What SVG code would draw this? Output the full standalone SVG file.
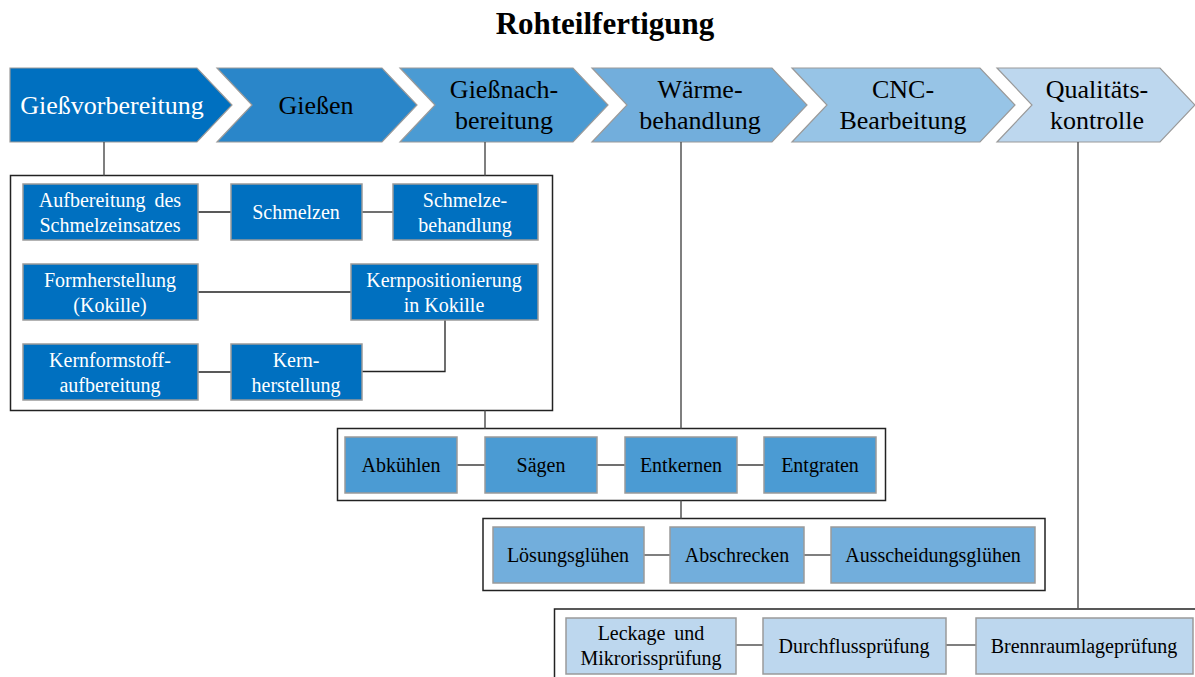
<svg xmlns="http://www.w3.org/2000/svg" width="1195" height="677" viewBox="0 0 1195 677">
  <style>
    text { font-family: "Liberation Serif", "Times New Roman", serif; text-anchor: middle; }
    .title { font-size: 31px; font-weight: bold; fill: #000; }
    .chev { stroke: #9a9a9a; stroke-width: 1.2; }
    .ct { font-size: 26px; fill: #000; }
    .ctw { font-size: 26px; fill: #fff; }
    .frame { fill: #fff; stroke: #222; stroke-width: 1.5; }
    .box { stroke: #9a9a9a; stroke-width: 1.5; }
    .b1 { fill: #0070C0; }
    .b2 { fill: #4B9BD3; }
    .b3 { fill: #72AEDC; }
    .b4 { fill: #BDD7EE; }
    .bt { font-size: 20px; fill: #000; }
    .btw { font-size: 20px; fill: #fff; }
    .link { stroke: #222; stroke-width: 1.3; fill: none; }
    .drop { stroke: #555; stroke-width: 1.5; fill: none; }
  </style>

  <text class="title" x="605" y="34">Rohteilfertigung</text>

  <!-- process chevrons -->
  <g id="phase-giessvorbereitung">
    <polygon class="chev" fill="#0070C0" points="10,68 197,68 232,105 197,142 10,142"/>
    <text class="ctw" x="112" y="114">Gießvorbereitung</text>
  </g>
  <g id="phase-giessen">
    <polygon class="chev" fill="#2A86C9" points="217,68 382,68 417,105 382,142 217,142 252,105"/>
    <text class="ct" x="316" y="114">Gießen</text>
  </g>
  <g id="phase-giessnachbereitung">
    <polygon class="chev" fill="#4B9BD3" points="400,68 573,68 608,105 573,142 400,142 435,105"/>
    <text class="ct" x="504" y="98">Gießnach-</text>
    <text class="ct" x="504" y="129">bereitung</text>
  </g>
  <g id="phase-waermebehandlung">
    <polygon class="chev" fill="#72AEDC" points="592,68 772,68 807,105 772,142 592,142 627,105"/>
    <text class="ct" x="700" y="98">Wärme-</text>
    <text class="ct" x="700" y="129">behandlung</text>
  </g>
  <g id="phase-cnc">
    <polygon class="chev" fill="#97C4E6" points="792,68 980,68 1015,105 980,142 792,142 827,105"/>
    <text class="ct" x="903" y="98">CNC-</text>
    <text class="ct" x="903" y="129">Bearbeitung</text>
  </g>
  <g id="phase-qualitaet">
    <polygon class="chev" fill="#BDD7EE" points="997,68 1160,68 1195,105 1160,142 997,142 1032,105"/>
    <text class="ct" x="1097" y="98">Qualitäts-</text>
    <text class="ct" x="1097" y="129">kontrolle</text>
  </g>

  <!-- group frames -->
  <g id="frames">
    <rect class="frame" x="10.5" y="175.5" width="542" height="235"/>
    <rect class="frame" x="337.5" y="428.5" width="548" height="72"/>
    <rect class="frame" x="483" y="518.5" width="562" height="72"/>
    <rect class="frame" x="554.5" y="609" width="650" height="80"/>
  </g>

  <!-- connectors -->
  <g id="connectors">
    <line class="drop" x1="104" y1="142" x2="104" y2="175.5"/>
    <line class="drop" x1="485" y1="142" x2="485" y2="175.5"/>
    <line class="drop" x1="485" y1="410.5" x2="485" y2="428.5"/>
    <line class="drop" x1="681" y1="142" x2="681" y2="428.5"/>
    <line class="drop" x1="681" y1="500.5" x2="681" y2="518.5"/>
    <line class="drop" x1="1078" y1="142" x2="1078" y2="609"/>

    <line class="link" x1="198" y1="212" x2="231" y2="212"/>
    <line class="link" x1="362" y1="212" x2="393" y2="212"/>
    <line class="link" x1="198" y1="292" x2="351" y2="292"/>
    <line class="link" x1="198" y1="372" x2="231" y2="372"/>
    <polyline class="link" points="445,320 445,371.5 362,371.5"/>

    <line class="link" x1="457" y1="465" x2="485" y2="465"/>
    <line class="link" x1="597" y1="465" x2="625" y2="465"/>
    <line class="link" x1="737" y1="465" x2="764" y2="465"/>

    <line class="drop" x1="644" y1="555" x2="670" y2="555"/>
    <line class="drop" x1="804" y1="555" x2="831" y2="555"/>

    <line class="drop" x1="736" y1="645" x2="763" y2="645"/>
    <line class="drop" x1="946" y1="645" x2="976" y2="645"/>
  </g>

  <!-- Gießvorbereitung steps -->
  <g id="aufbereitung-schmelzeinsatz">
    <rect class="box b1" x="23" y="184" width="175" height="56"/>
    <text class="btw" x="110" y="207" word-spacing="4">Aufbereitung des</text>
    <text class="btw" x="110" y="232">Schmelzeinsatzes</text>
  </g>
  <g id="schmelzen">
    <rect class="box b1" x="231" y="184" width="131" height="56"/>
    <text class="btw" x="296" y="219">Schmelzen</text>
  </g>
  <g id="schmelzebehandlung">
    <rect class="box b1" x="393" y="184" width="145" height="56"/>
    <text class="btw" x="465" y="207">Schmelze-</text>
    <text class="btw" x="465" y="232">behandlung</text>
  </g>
  <g id="formherstellung">
    <rect class="box b1" x="23" y="264" width="175" height="56"/>
    <text class="btw" x="110" y="287">Formherstellung</text>
    <text class="btw" x="110" y="312">(Kokille)</text>
  </g>
  <g id="kernpositionierung">
    <rect class="box b1" x="351" y="264" width="187" height="56"/>
    <text class="btw" x="444" y="287">Kernpositionierung</text>
    <text class="btw" x="444" y="312">in Kokille</text>
  </g>
  <g id="kernformstoffaufbereitung">
    <rect class="box b1" x="23" y="344" width="175" height="56"/>
    <text class="btw" x="110" y="367">Kernformstoff-</text>
    <text class="btw" x="110" y="392">aufbereitung</text>
  </g>
  <g id="kernherstellung">
    <rect class="box b1" x="231" y="344" width="131" height="56"/>
    <text class="btw" x="296" y="367">Kern-</text>
    <text class="btw" x="296" y="392">herstellung</text>
  </g>

  <!-- Gießnachbereitung steps -->
  <g id="abkuehlen">
    <rect class="box b2" x="345" y="437" width="112" height="56"/>
    <text class="bt" x="401" y="472">Abkühlen</text>
  </g>
  <g id="saegen">
    <rect class="box b2" x="485" y="437" width="112" height="56"/>
    <text class="bt" x="541" y="472">Sägen</text>
  </g>
  <g id="entkernen">
    <rect class="box b2" x="625" y="437" width="112" height="56"/>
    <text class="bt" x="681" y="472">Entkernen</text>
  </g>
  <g id="entgraten">
    <rect class="box b2" x="764" y="437" width="112" height="56"/>
    <text class="bt" x="820" y="472">Entgraten</text>
  </g>

  <!-- Wärmebehandlung steps -->
  <g id="loesungsgluehen">
    <rect class="box b3" x="493" y="527" width="151" height="56"/>
    <text class="bt" x="568" y="562">Lösungsglühen</text>
  </g>
  <g id="abschrecken">
    <rect class="box b3" x="670" y="527" width="134" height="56"/>
    <text class="bt" x="737" y="562">Abschrecken</text>
  </g>
  <g id="ausscheidungsgluehen">
    <rect class="box b3" x="831" y="527" width="204" height="56"/>
    <text class="bt" x="933" y="562">Ausscheidungsglühen</text>
  </g>

  <!-- Qualitätskontrolle steps -->
  <g id="leckagepruefung">
    <rect class="box b4" x="566" y="618" width="170" height="56"/>
    <text class="bt" x="651" y="640" word-spacing="4">Leckage und</text>
    <text class="bt" x="651" y="665">Mikrorissprüfung</text>
  </g>
  <g id="durchflusspruefung">
    <rect class="box b4" x="763" y="618" width="183" height="56"/>
    <text class="bt" x="854" y="653">Durchflussprüfung</text>
  </g>
  <g id="brennraumlagepruefung">
    <rect class="box b4" x="976" y="618" width="217" height="56"/>
    <text class="bt" x="1084" y="653">Brennraumlageprüfung</text>
  </g>
</svg>
